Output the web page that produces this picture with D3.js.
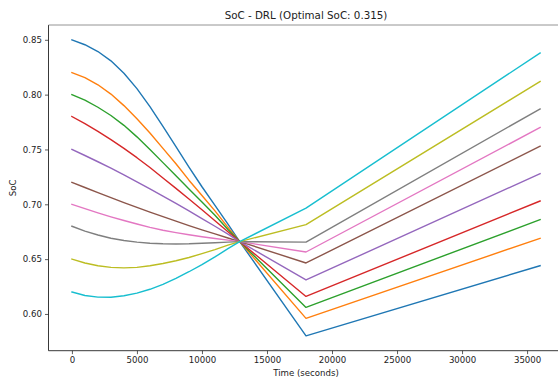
<!DOCTYPE html>
<html>
<head>
<meta charset="utf-8">
<script src="https://cdn.jsdelivr.net/npm/d3@7"></script>
<style>
  html, body { margin: 0; padding: 0; background: #fff; }
  svg { display: block; font-family: "DejaVu Sans", sans-serif; }
</style>
</head>
<body>
<svg id="chart" width="558" height="380"></svg>
<script>
// ---- data ----
const times = [0, 1000, 2000, 3000, 4000, 5000, 6000, 7000, 8000, 9000, 10000, 11000, 12000, 12900, 18000, 36000];

const soc085 = [0.850, 0.8455, 0.8393, 0.8308, 0.8195, 0.8055, 0.789, 0.771, 0.7525, 0.734, 0.716, 0.699, 0.682, 0.666, 0.580, 0.644];
const soc082 = [0.820, 0.8155, 0.809, 0.8005, 0.790, 0.778, 0.765, 0.751, 0.737, 0.722, 0.708, 0.694, 0.679, 0.666, 0.596, 0.669];
const soc080 = [0.800, 0.795, 0.7885, 0.781, 0.772, 0.7615, 0.750, 0.738, 0.726, 0.714, 0.702, 0.690, 0.677, 0.666, 0.606, 0.686];
const soc078 = [0.780, 0.7735, 0.7665, 0.759, 0.751, 0.7425, 0.7335, 0.724, 0.7145, 0.7048, 0.695, 0.685, 0.675, 0.666, 0.616, 0.703];
const soc075 = [0.750, 0.7445, 0.7388, 0.733, 0.7268, 0.7205, 0.714, 0.7075, 0.7008, 0.694, 0.687, 0.680, 0.6728, 0.666, 0.631, 0.728];
const soc072 = [0.720, 0.7153, 0.7107, 0.7061, 0.7016, 0.6972, 0.6929, 0.6887, 0.6846, 0.6806, 0.6767, 0.673, 0.6693, 0.666, 0.6465, 0.753];
const soc070 = [0.700, 0.696, 0.6922, 0.6886, 0.6852, 0.682, 0.679, 0.6763, 0.6742, 0.6722, 0.6704, 0.6688, 0.6673, 0.666, 0.6565, 0.770];
const soc068 = [0.680, 0.6755, 0.672, 0.669, 0.667, 0.6655, 0.6645, 0.664, 0.6638, 0.664, 0.6645, 0.665, 0.6655, 0.666, 0.6655, 0.787];
const soc065 = [0.650, 0.6465, 0.644, 0.6425, 0.642, 0.6425, 0.644, 0.646, 0.6485, 0.6515, 0.655, 0.6587, 0.6627, 0.666, 0.6815, 0.812];
const soc062 = [0.620, 0.6168, 0.6154, 0.6153, 0.6166, 0.619, 0.6225, 0.627, 0.6325, 0.6385, 0.645, 0.652, 0.6595, 0.666, 0.6965, 0.838];

const seriesList = [soc085, soc082, soc080, soc078, soc075, soc072, soc070, soc068, soc065, soc062];
const colors = ["#1f77b4", "#ff7f0e", "#2ca02c", "#d62728", "#9467bd", "#8c564b", "#e377c2", "#7f7f7f", "#bcbd22", "#17becf"];

const xTicks = [0, 5000, 10000, 15000, 20000, 25000, 30000, 35000];
const yTicks = [0.60, 0.65, 0.70, 0.75, 0.80, 0.85];

const titleText = "SoC - DRL (Optimal SoC: 0.315)";
const xLabel = "Time (seconds)";
const yLabel = "SoC";

// ---- layout ----
const svg = d3.select("#chart");
const mLeft = 48.5, mRight = 563.5, mTop = 25, mBottom = 350.7;

const xMin = d3.min(times), xMax = d3.max(times);
const allVals = seriesList.flat();
const yMin = d3.min(allVals), yMax = d3.max(allVals);
const xPad = (xMax - xMin) * 0.05, yPad = (yMax - yMin) * 0.05;

const x = d3.scaleLinear().domain([xMin - xPad, xMax + xPad]).range([mLeft, mRight]);
const y = d3.scaleLinear().domain([yMin - yPad, yMax + yPad]).range([mBottom, mTop]);

// lines
const line = d3.line().x((d, i) => x(times[i])).y(d => y(d));
const plot = svg.append("g");
seriesList.forEach((s, k) => {
  plot.append("path")
    .datum(s)
    .attr("d", line)
    .attr("fill", "none")
    .attr("stroke", colors[k])
    .attr("stroke-width", 1.4)
    .attr("stroke-linejoin", "round")
    .attr("stroke-linecap", "square");
});

// axes
const xAxis = d3.axisBottom(x).tickValues(xTicks).tickFormat(d3.format("d")).tickSize(3.5).tickPadding(3);
const yAxis = d3.axisLeft(y).tickValues(yTicks).tickFormat(d3.format(".2f")).tickSize(3.5).tickPadding(3);

const gx = svg.append("g").attr("transform", `translate(0,${mBottom})`).call(xAxis);
const gy = svg.append("g").attr("transform", `translate(${mLeft},0)`).call(yAxis);
[gx, gy].forEach(g => {
  g.select(".domain").remove();
  g.selectAll(".tick line").attr("stroke", "#333").attr("stroke-width", 0.8);
  g.selectAll(".tick text").attr("fill", "#222").style("font-size", "8.6px").style("font-family", "DejaVu Sans, sans-serif");
});

// spines
const spines = svg.append("g").attr("fill", "none").attr("stroke", "#222").attr("stroke-width", 0.9);
spines.append("line").attr("x1", mLeft).attr("x2", mLeft).attr("y1", mTop).attr("y2", mBottom);
spines.append("line").attr("x1", mLeft).attr("x2", mRight).attr("y1", mBottom).attr("y2", mBottom);
spines.append("line").attr("x1", mLeft).attr("x2", mRight).attr("y1", mTop).attr("y2", mTop).attr("stroke", "#888");
spines.append("line").attr("x1", mRight).attr("x2", mRight).attr("y1", mTop).attr("y2", mBottom);

// title & labels
const cx = (mLeft + mRight) / 2;
svg.append("text").attr("x", cx).attr("y", 19).attr("text-anchor", "middle")
  .style("font-size", "10.3px").attr("fill", "#222").text(titleText);
svg.append("text").attr("x", cx).attr("y", 376).attr("text-anchor", "middle")
  .style("font-size", "8.6px").attr("fill", "#222").text(xLabel);
svg.append("text").attr("transform", `translate(15.5,${(mTop + mBottom) / 2}) rotate(-90)`)
  .attr("text-anchor", "middle").style("font-size", "8.6px").attr("fill", "#222").text(yLabel);
</script>
</body>
</html>
